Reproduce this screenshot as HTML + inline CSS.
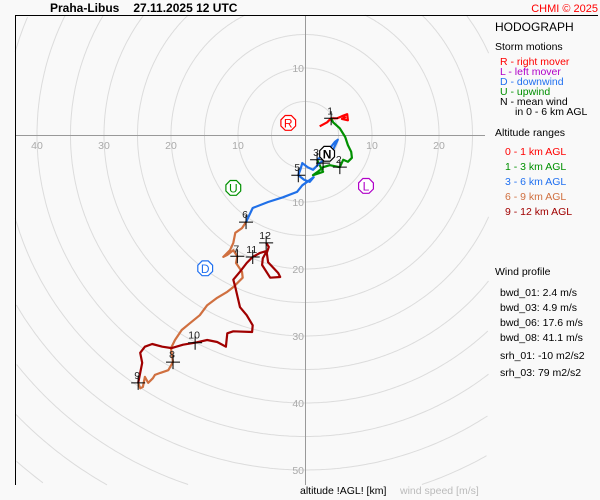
<!DOCTYPE html>
<html><head><meta charset="utf-8"><style>
html,body{margin:0;padding:0;background:#f9f9f9;width:600px;height:500px;overflow:hidden;}
svg{display:block;font-family:"Liberation Sans",Arial,sans-serif;overflow:hidden;}
</style></head><body>
<svg id="chart" width="600" height="500" viewBox="0 0 600 500" xmlns="http://www.w3.org/2000/svg">
<rect x="0" y="0" width="600" height="500" fill="#f9f9f9"/>
<g id="grid"></g>
<g id="axes"></g>
<g id="series"></g>
<g id="marks"></g>
<g id="storms"></g>
<text x="50" y="12" font-size="12" font-weight="bold" fill="#000">Praha-Libus<tspan dx="14">27.11.2025 12 UTC</tspan></text>
<text x="598" y="12" font-size="11" fill="#ff0000" text-anchor="end">CHMI © 2025</text>
<line x1="15" y1="15.5" x2="598" y2="15.5" stroke="#000" stroke-width="1"/>
<line x1="15.5" y1="15" x2="15.5" y2="485" stroke="#000" stroke-width="1"/>
<g font-size="11">
<text x="495" y="31" font-size="12">HODOGRAPH</text>
<text x="495" y="50" font-size="10.5">Storm motions</text>
<text x="500" y="65" font-size="10.5" fill="#ff0000">R - right mover</text>
<text x="500" y="75" font-size="10.5" fill="#b000c8">L - left mover</text>
<text x="500" y="85" font-size="10.5" fill="#2070f0">D - downwind</text>
<text x="500" y="95" font-size="10.5" fill="#009000">U - upwind</text>
<text x="500" y="105" font-size="10.5">N - mean wind</text>
<text x="515" y="115" font-size="10.5">in 0 - 6 km AGL</text>
<text x="495" y="136" font-size="10.5">Altitude ranges</text>
<text x="505" y="155" font-size="10.5" fill="#ff0000">0 - 1 km AGL</text>
<text x="505" y="170" font-size="10.5" fill="#009000">1 - 3 km AGL</text>
<text x="505" y="185" font-size="10.5" fill="#2070f0">3 - 6 km AGL</text>
<text x="505" y="200" font-size="10.5" fill="#d07040">6 - 9 km AGL</text>
<text x="505" y="215" font-size="10.5" fill="#a00000">9 - 12 km AGL</text>
<text x="495" y="275" font-size="10.5">Wind profile</text>
<text x="500" y="296" font-size="10.5">bwd_01: 2.4 m/s</text>
<text x="500" y="311" font-size="10.5">bwd_03: 4.9 m/s</text>
<text x="500" y="326" font-size="10.5">bwd_06: 17.6 m/s</text>
<text x="500" y="341" font-size="10.5">bwd_08: 41.1 m/s</text>
<text x="500" y="359" font-size="10.5">srh_01: -10 m2/s2</text>
<text x="500" y="376" font-size="10.5">srh_03: 79 m2/s2</text>
</g>
<text x="300" y="494" font-size="10.5" fill="#000">altitude !AGL! [km]</text>
<text x="400" y="494" font-size="10.5" fill="#bbb">wind speed [m/s]</text>
<script>
const ringSpeeds=[5,10,15,20,25,30,35,40,45,50,55,60,65,70];
const hLabels=[40,30,20,10,10,20];
const hLabelSigns=[-1,-1,-1,-1,1,1];
const vLabels=[10,10,20,30,40,50];
const vLabelSigns=[1,-1,-1,-1,-1,-1];
const u01=[2.2,3.3,3.9,4.8,5.5,6.3,6.4,5.5,6.1];
const v01=[1.3,1.9,2.5,2.5,2.8,3.1,2.2,2.4,2.7];
const u13=[3.9,4.2,5.2,6.0,6.4,6.9,7.0,6.4,5.7,5.2,3.7,2.7,1.9,1.2,2.7,2.2,1.8];
const v13=[2.5,1.9,1.0,-0.3,-1.5,-2.5,-3.4,-4.0,-3.7,-4.8,-4.5,-4.8,-5.5,-6.0,-5.5,-4.5,-3.7];
const u36=[1.8,3.3,4.5,4.9,4.2,3.3,2.2,1.2,0.4,-0.4,-0.7,-1.0,-0.1,0.7,1.3,-0.4,-1.2,-3.3,-5.5,-7.8,-8.8];
const v36=[-3.7,-2.5,-1.0,-0.7,-2.2,-3.4,-4.2,-5.2,-4.8,-4.2,-5.2,-6.0,-6.7,-7.0,-6.3,-7.5,-8.5,-9.3,-10.0,-10.9,-13.0];
const u69=[-8.8,-9.4,-10.4,-10.7,-11.2,-12.2,-11.6,-10.7,-10.1,-10.3,-9.4,-9.3,-10.7,-11.6,-13.1,-14.6,-15.7,-17.2,-18.4,-19.4,-20.0,-19.7,-20.4,-21.6,-22.4,-22.7,-23.4,-23.9,-24.2,-24.6,-24.9];
const v69=[-13.0,-13.9,-14.6,-16.1,-17.2,-18.2,-17.9,-17.2,-18.1,-19.1,-20.4,-21.3,-22.7,-23.4,-24.3,-25.4,-26.9,-28.1,-29.1,-30.6,-31.8,-33.9,-35.1,-35.5,-35.8,-36.3,-37.0,-36.1,-37.6,-37.8,-37.0];
const u912=[-24.9,-24.6,-24.3,-24.6,-23.9,-22.8,-21.3,-19.9,-18.2,-16.4,-14.6,-13.1,-11.8,-11.6,-10.7,-7.9,-7.8,-8.7,-9.7,-10.4,-10.7,-9.7,-8.7,-7.8,-6.7,-5.7,-6.3,-6.4,-5.2,-3.7,-4.0,-5.5,-5.7,-5.4,-5.8];
const v912=[-37.0,-35.5,-34.0,-32.5,-31.6,-31.2,-31.6,-31.8,-31.3,-31.0,-30.6,-30.9,-31.6,-29.6,-29.3,-29.4,-28.4,-26.9,-25.7,-22.7,-21.6,-20.4,-19.1,-18.2,-17.6,-17.3,-18.4,-19.4,-21.3,-21.2,-20.6,-19.0,-17.6,-16.7,-16.1];
const markLabels=["1","2","3","4","5","6","7","8","9","10","11","12"];
const markU=[3.9,5.2,1.8,2.7,-1.0,-8.8,-10.1,-19.7,-24.9,-16.4,-7.8,-5.8];
const markV=[2.5,-4.8,-3.7,-4.2,-6.0,-13.0,-18.1,-33.9,-37.0,-31.0,-18.2,-16.1];
const stormLetters=["R","L","D","U","N"];
const stormU=[-2.5,9.1,-14.9,-10.7,3.3];
const stormV=[1.8,-7.6,-19.9,-7.9,-2.8];

const CX=305,CY=135,K=6.7;
const X0=15,X1=489,Y0=15,Y1=485;
const NS="http://www.w3.org/2000/svg";
function sx(u){return CX+u*K;}
function sy(v){return CY-v*K;}
function mk(tag,attrs,parent){const e=document.createElementNS(NS,tag);for(const k in attrs)e.setAttribute(k,attrs[k]);parent.appendChild(e);return e;}
const grid=document.getElementById('grid'),axes=document.getElementById('axes'),series=document.getElementById('series'),marks=document.getElementById('marks'),storms=document.getElementById('storms');
ringSpeeds.forEach(s=>{const r=s*K;let d='';let pen=false;
for(let k=0;k<=720;k++){const a=k*Math.PI/360;const x=CX+r*Math.cos(a),y=CY+r*Math.sin(a);
const inside=x>=X0&&x<=X1&&y>=Y0&&y<=Y1;
if(inside){d+=(pen?'L':'M')+x.toFixed(1)+' '+y.toFixed(1);pen=true;}else pen=false;}
if(!d)return;
const c=mk('path',{d:d,fill:'none',stroke:'#dcdcdc','stroke-width':1},grid);

});
let l=mk('line',{x1:15,y1:CY+0.5,x2:485,y2:CY+0.5,stroke:'#999','stroke-width':1},axes);


l=mk('line',{x1:CX+0.5,y1:15,x2:CX+0.5,y2:485,stroke:'#999','stroke-width':1},axes);


hLabels.forEach((t,i)=>{const e=mk('text',{x:sx(t*hLabelSigns[i]),y:CY+14,'font-size':10.5,fill:'#aaa','text-anchor':'middle'},axes);e.textContent=t;

});
vLabels.forEach((t,i)=>{const e=mk('text',{x:CX-1,y:sy(t*vLabelSigns[i])+4,'font-size':10.5,fill:'#aaa','text-anchor':'end'},axes);e.textContent=t;

});
function line(us,vs,color,name){const d=us.map((u,i)=>(i?'L':'M')+sx(u).toFixed(1)+' '+sy(vs[i]).toFixed(1)).join(' ');
const p=mk('path',{d:d,fill:'none',stroke:color,'stroke-width':2.2,'stroke-linejoin':'round'},series);

}
line(u01,v01,'#ff0000','series-0-1km');
line(u13,v13,'#009000','series-1-3km');
line(u36,v36,'#2070e8','series-3-6km');
line(u69,v69,'#d07040','series-6-9km');
line(u912,v912,'#a00000','series-9-12km');
markLabels.forEach((t,i)=>{const x=sx(markU[i]),y=sy(markV[i]);
const p=mk('path',{d:`M${x-7} ${y}H${x+7}M${x} ${y-7}V${y+7}`,stroke:'#000','stroke-width':1},marks);


if(t!=="4"){const e=mk('text',{x:x-1,y:y-4,'font-size':10.5,fill:'#222','text-anchor':'middle'},marks);e.textContent=t;

}});
const stormColors=['#ff0000','#b000c8','#2070f0','#009000','#000'];
stormLetters.forEach((t,i)=>{const x=sx(stormU[i]),y=sy(stormV[i]);const r=8;let pts=[];
for(let k=0;k<8;k++){const a=Math.PI/8+k*Math.PI/4;pts.push((x+r*Math.cos(a)).toFixed(1)+','+(y+r*Math.sin(a)).toFixed(1));}
const g=mk('polygon',{points:pts.join(' '),fill:'#fff',stroke:stormColors[i],'stroke-width':1.2},storms);


const e=mk('text',{x:x,y:y+4.5,'font-size':12,'font-weight':t==='N'?'bold':'normal',fill:stormColors[i],'text-anchor':'middle'},storms);e.textContent=t;

});
</script>
</svg>
</body></html>
